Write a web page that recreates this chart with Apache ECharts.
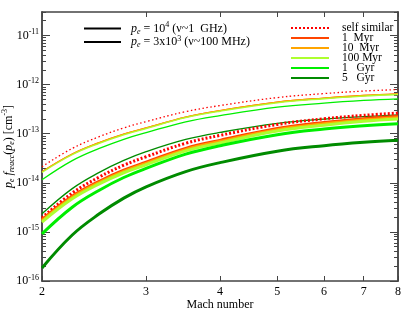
<!DOCTYPE html>
<html><head><meta charset="utf-8">
<script src="https://cdn.jsdelivr.net/npm/echarts@6/dist/echarts.min.js"></script>
<style>html,body{margin:0;padding:0;background:#fff}#c{width:415px;height:312px}</style>
</head><body><div id="c"></div>
<script>
// Mach numbers where values were read
const mach = [2, 2.25, 2.5, 2.75, 3, 3.5, 4, 5, 6, 7, 8];
// p_e = 1e4 (thick lines)
const selfHi   = [1.93e-15, 6.19e-15, 1.31e-14, 2.28e-14, 3.39e-14, 6.37e-14, 9.23e-14, 1.54e-13, 2.01e-13, 2.36e-13, 2.62e-13];
const myr1Hi   = [1.78e-15, 5.31e-15, 1.07e-14, 1.80e-14, 2.63e-14, 5.02e-14, 7.31e-14, 1.27e-13, 1.69e-13, 2.01e-13, 2.25e-13];
const myr10Hi  = [1.68e-15, 5.01e-15, 1.01e-14, 1.70e-14, 2.48e-14, 4.74e-14, 6.90e-14, 1.20e-13, 1.59e-13, 1.90e-13, 2.12e-13];
const myr100Hi = [1.58e-15, 4.71e-15, 9.50e-15, 1.60e-14, 2.33e-14, 4.46e-14, 6.49e-14, 1.13e-13, 1.49e-13, 1.79e-13, 1.99e-13];
const gyr1Hi   = [9.10e-16, 3.18e-15, 7.06e-15, 1.28e-14, 1.96e-14, 3.83e-14, 5.69e-14, 9.54e-14, 1.24e-13, 1.45e-13, 1.60e-13];
const gyr5Hi   = [1.84e-16, 8.64e-16, 2.33e-15, 4.87e-15, 8.29e-15, 1.69e-14, 2.57e-14, 4.39e-14, 5.69e-14, 6.68e-14, 7.37e-14];
// p_e = 3x10^3 (thin lines)
const selfLo   = [2.12e-14, 5.01e-14, 8.69e-14, 1.31e-13, 1.76e-13, 2.81e-13, 3.73e-13, 5.43e-13, 6.55e-13, 7.37e-13, 7.91e-13];
const myr1Lo   = [1.68e-14, 3.85e-14, 6.58e-14, 9.81e-14, 1.31e-13, 2.18e-13, 2.95e-13, 4.37e-13, 5.30e-13, 5.99e-13, 6.46e-13];
const myr10Lo  = [1.68e-14, 3.85e-14, 6.58e-14, 9.81e-14, 1.31e-13, 2.18e-13, 2.95e-13, 4.37e-13, 5.30e-13, 5.99e-13, 6.46e-13];
const myr100Lo = [1.62e-14, 3.72e-14, 6.35e-14, 9.47e-14, 1.27e-13, 2.11e-13, 2.86e-13, 4.24e-13, 5.14e-13, 5.81e-13, 6.27e-13];
const gyr1Lo   = [1.15e-14, 2.82e-14, 5.01e-14, 7.69e-14, 1.05e-13, 1.74e-13, 2.33e-13, 3.46e-13, 4.19e-13, 4.74e-13, 5.11e-13];
const gyr5Lo   = [2.33e-15, 7.61e-15, 1.63e-14, 2.85e-14, 4.29e-14, 7.61e-14, 1.06e-13, 1.62e-13, 1.98e-13, 2.22e-13, 2.41e-13];

const ageNames = ['self similar', '1  Myr', '10  Myr', '100 Myr', '1   Gyr', '5   Gyr'];
const xTicks = [2, 3, 4, 5, 6, 7, 8];
const yMajor = [1e-16, 1e-15, 1e-14, 1e-13, 1e-12, 1e-11];
const yMinor = [];
for (let e = -16; e <= -11; e++) for (let k = 2; k <= 9; k++) { const v = k * Math.pow(10, e); if (v <= 3e-11) yMinor.push(v); }

const SERIF = 'Liberation Serif';
const AX = '#444';
const colors = ['#ff0000', '#ff4500', '#ffa500', '#adff2f', '#00ee00', '#008b00'];

function pairs(arr) { return mach.map((m, i) => [m, arr[i]]); }

const hiSets = [selfHi, myr1Hi, myr10Hi, myr100Hi, gyr1Hi, gyr5Hi];
const loSets = [selfLo, myr1Lo, myr10Lo, myr100Lo, gyr1Lo, gyr5Lo];

const series = [];
series.push({ name: 'pe4', type: 'line', data: [], symbol: 'none', lineStyle: { color: '#000', width: 3 }, itemStyle: { color: '#000' }, showSymbol: false });
series.push({ name: 'pe3', type: 'line', data: [], symbol: 'none', lineStyle: { color: '#000', width: 1.2 }, itemStyle: { color: '#000' }, showSymbol: false });
loSets.forEach((d, i) => {
  series.push({
    name: ageNames[i] + ' (3e3)', type: 'line', smooth: 0.4, showSymbol: false, symbol: 'none',
    data: pairs(d), z: 2,
    lineStyle: { color: colors[i], width: 1.3, type: i === 0 ? [1.5, 2.5] : 'solid' },
    itemStyle: { color: colors[i] }
  });
});
hiSets.forEach((d, i) => {
  series.push({
    name: ageNames[i], type: 'line', smooth: 0.4, showSymbol: false, symbol: 'none',
    data: pairs(d), z: 3,
    lineStyle: { color: colors[i], width: 3, type: i === 0 ? [2, 2] : 'solid' },
    itemStyle: { color: colors[i] }
  });
});

const subS = { fontFamily: SERIF, fontSize: 8, fontStyle: 'italic', color: '#000', padding: [6, 0, 0, 0] };
const supS = { fontFamily: SERIF, fontSize: 8, color: '#000', padding: [0, 0, 7, 0] };
const itS = { fontFamily: SERIF, fontSize: 12, fontStyle: 'italic', color: '#000' };
const tS = { fontFamily: SERIF, fontSize: 12, color: '#000' };

function yAx(pos, major) {
  return {
    type: 'log', min: 1e-16, max: 3e-11, position: pos, logBase: 10,
    axisLine: { show: true, lineStyle: { color: AX, width: 1.5 } },
    axisTick: { show: true, inside: true, length: major ? 8 : 4, lineStyle: { color: AX, width: 1 }, customValues: major ? yMajor : yMinor },
    axisLabel: (major && pos === 'left') ? {
      show: true, customValues: yMajor, margin: 3,
      formatter: v => '{b|10}{s|' + Math.round(Math.log10(v)) + '}',
      rich: { b: { fontFamily: SERIF, fontSize: 12, color: '#000' }, s: supS }
    } : { show: false },
    splitLine: { show: false }, minorTick: { show: false },
    name: (major && pos === 'left') ? '{i|p}{sub|e}{i| f}{sub|reacc}{t|(}{i|p}{sub|e}{t|) [cm}{sup|-3}{t|]}' : '',
    nameLocation: 'middle', nameGap: 26, nameRotate: 90, nameMoveOverlap: false,
    nameTextStyle: { fontFamily: SERIF, fontSize: 12, color: '#000', rich: { i: itS, sub: subS, sup: supS, t: tS } }
  };
}
function xAx(pos) {
  return {
    type: 'log', min: 2, max: 8, position: pos, logBase: 10,
    axisLine: { show: true, lineStyle: { color: AX, width: 1.5 } },
    axisTick: { show: true, inside: true, length: 5, lineStyle: { color: AX, width: 1 }, customValues: xTicks },
    axisLabel: pos === 'bottom' ? { show: true, customValues: xTicks, margin: 5, fontFamily: SERIF, fontSize: 12, color: '#000', formatter: v => String(Math.round(v)) } : { show: false },
    splitLine: { show: false },
    name: pos === 'bottom' ? 'Mach number' : '',
    nameLocation: 'middle', nameGap: 18, nameMoveOverlap: false,
    nameTextStyle: { fontFamily: SERIF, fontSize: 12, color: '#000' }
  };
}

const legendRich = { i: itS, sub: subS, sup: supS, t: tS };
const chart = echarts.init(document.getElementById('c'), null, { renderer: 'canvas' });
chart.setOption({
  animation: false,
  backgroundColor: '#fff',
  grid: { left: 42, right: 17, top: 12, bottom: 31, containLabel: false, outerBoundsMode: 'none' },
  xAxis: [xAx('bottom'), xAx('top')],
  yAxis: [yAx('left', true), yAx('left', false), yAx('right', true), yAx('right', false)],
  legend: [
    {
      data: ['pe4', 'pe3'], orient: 'vertical', left: 83, top: 21, padding: 0, itemWidth: 37, itemHeight: 13, itemGap: -1,
      selectedMode: false, itemStyle: { opacity: 0 },
      formatter: n => n === 'pe4' ? '{i|p}{sub|e}{t| = 10}{sup|4}{t| (ν~1  GHz)}' : '{i|p}{sub|e}{t| = 3x10}{sup|3}{t| (ν~100 MHz)}',
      textStyle: { fontFamily: SERIF, fontSize: 12, color: '#000', lineHeight: 13, padding: [0, 0, 0, 5], rich: legendRich }
    },
    {
      data: ageNames, orient: 'vertical', left: 290, top: 22, padding: 0, itemWidth: 38, itemHeight: 10, itemGap: -2,
      selectedMode: false, itemStyle: { opacity: 0 },
      textStyle: { fontFamily: SERIF, fontSize: 11.5, color: '#000', lineHeight: 10, padding: [0, 0, 0, 8] }
    }
  ],
  series: series
});
</script>
</body></html>
